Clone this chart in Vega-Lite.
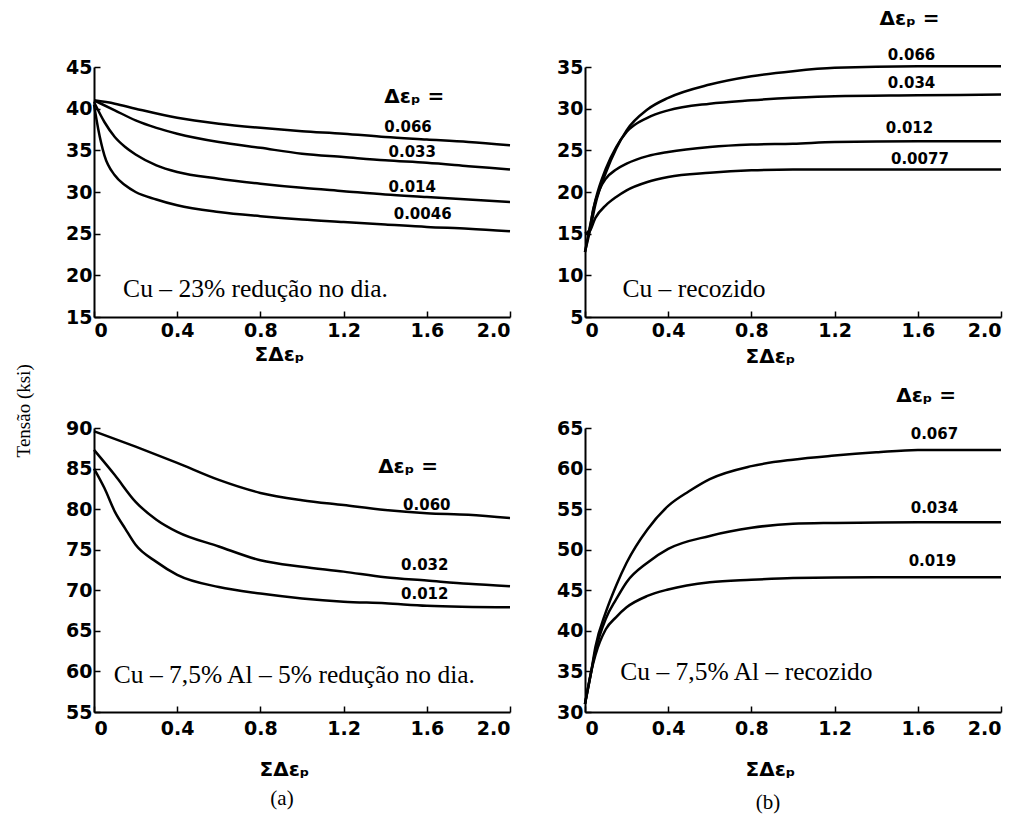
{
  "$schema": "https://vega.github.io/schema/vega-lite/v6.json",
  "background": "white",
  "padding": {"left": 14, "top": 8, "right": 10, "bottom": 4},
  "title": {"text": "Tensão (ksi)", "orient": "left", "anchor": "middle", "font": "Liberation Serif", "fontSize": 19, "fontWeight": "normal", "color": "black", "offset": 32},
  "spacing": 20,
  "datasets": {
    "curves": [
      {"panel":"a1","series":"0.066","x":0,"y":41.0},{"panel":"a1","series":"0.066","x":0.1,"y":40.6},{"panel":"a1","series":"0.066","x":0.2,"y":40.0},{"panel":"a1","series":"0.066","x":0.4,"y":38.9},{"panel":"a1","series":"0.066","x":0.6,"y":38.2},{"panel":"a1","series":"0.066","x":0.8,"y":37.7},{"panel":"a1","series":"0.066","x":1.0,"y":37.3},{"panel":"a1","series":"0.066","x":1.2,"y":37.0},{"panel":"a1","series":"0.066","x":1.4,"y":36.6},{"panel":"a1","series":"0.066","x":1.6,"y":36.3},{"panel":"a1","series":"0.066","x":1.8,"y":36.0},{"panel":"a1","series":"0.066","x":2.0,"y":35.6},
      {"panel":"a1","series":"0.033","x":0,"y":41.0},{"panel":"a1","series":"0.033","x":0.1,"y":39.8},{"panel":"a1","series":"0.033","x":0.2,"y":38.6},{"panel":"a1","series":"0.033","x":0.3,"y":37.7},{"panel":"a1","series":"0.033","x":0.4,"y":37.0},{"panel":"a1","series":"0.033","x":0.6,"y":36.0},{"panel":"a1","series":"0.033","x":0.8,"y":35.3},{"panel":"a1","series":"0.033","x":1.0,"y":34.6},{"panel":"a1","series":"0.033","x":1.2,"y":34.2},{"panel":"a1","series":"0.033","x":1.4,"y":33.8},{"panel":"a1","series":"0.033","x":1.6,"y":33.5},{"panel":"a1","series":"0.033","x":1.8,"y":33.1},{"panel":"a1","series":"0.033","x":2.0,"y":32.7},
      {"panel":"a1","series":"0.014","x":0,"y":40.8},{"panel":"a1","series":"0.014","x":0.05,"y":38.4},{"panel":"a1","series":"0.014","x":0.1,"y":36.6},{"panel":"a1","series":"0.014","x":0.15,"y":35.4},{"panel":"a1","series":"0.014","x":0.2,"y":34.5},{"panel":"a1","series":"0.014","x":0.3,"y":33.2},{"panel":"a1","series":"0.014","x":0.4,"y":32.4},{"panel":"a1","series":"0.014","x":0.6,"y":31.6},{"panel":"a1","series":"0.014","x":0.8,"y":31.0},{"panel":"a1","series":"0.014","x":1.0,"y":30.5},{"panel":"a1","series":"0.014","x":1.2,"y":30.1},{"panel":"a1","series":"0.014","x":1.4,"y":29.7},{"panel":"a1","series":"0.014","x":1.6,"y":29.4},{"panel":"a1","series":"0.014","x":1.8,"y":29.1},{"panel":"a1","series":"0.014","x":2.0,"y":28.8},
      {"panel":"a1","series":"0.0046","x":0,"y":40.5},{"panel":"a1","series":"0.0046","x":0.02,"y":37.6},{"panel":"a1","series":"0.0046","x":0.05,"y":34.4},{"panel":"a1","series":"0.0046","x":0.1,"y":32.0},{"panel":"a1","series":"0.0046","x":0.15,"y":30.8},{"panel":"a1","series":"0.0046","x":0.2,"y":30.0},{"panel":"a1","series":"0.0046","x":0.3,"y":29.1},{"panel":"a1","series":"0.0046","x":0.4,"y":28.4},{"panel":"a1","series":"0.0046","x":0.6,"y":27.6},{"panel":"a1","series":"0.0046","x":0.8,"y":27.1},{"panel":"a1","series":"0.0046","x":1.0,"y":26.7},{"panel":"a1","series":"0.0046","x":1.2,"y":26.4},{"panel":"a1","series":"0.0046","x":1.4,"y":26.1},{"panel":"a1","series":"0.0046","x":1.6,"y":25.8},{"panel":"a1","series":"0.0046","x":1.8,"y":25.6},{"panel":"a1","series":"0.0046","x":2.0,"y":25.3},

      {"panel":"b1","series":"0.066","x":0,"y":12.8},{"panel":"b1","series":"0.066","x":0.025,"y":15.5},{"panel":"b1","series":"0.066","x":0.05,"y":18.5},{"panel":"b1","series":"0.066","x":0.1,"y":22.3},{"panel":"b1","series":"0.066","x":0.15,"y":25.2},{"panel":"b1","series":"0.066","x":0.2,"y":27.4},{"panel":"b1","series":"0.066","x":0.3,"y":29.9},{"panel":"b1","series":"0.066","x":0.4,"y":31.3},{"panel":"b1","series":"0.066","x":0.6,"y":32.9},{"panel":"b1","series":"0.066","x":0.8,"y":33.9},{"panel":"b1","series":"0.066","x":1.0,"y":34.5},{"panel":"b1","series":"0.066","x":1.2,"y":34.9},{"panel":"b1","series":"0.066","x":1.6,"y":35.1},{"panel":"b1","series":"0.066","x":2.0,"y":35.1},
      {"panel":"b1","series":"0.034","x":0,"y":12.8},{"panel":"b1","series":"0.034","x":0.025,"y":16.0},{"panel":"b1","series":"0.034","x":0.05,"y":19.0},{"panel":"b1","series":"0.034","x":0.1,"y":22.8},{"panel":"b1","series":"0.034","x":0.15,"y":25.4},{"panel":"b1","series":"0.034","x":0.2,"y":27.2},{"panel":"b1","series":"0.034","x":0.3,"y":28.9},{"panel":"b1","series":"0.034","x":0.4,"y":29.8},{"panel":"b1","series":"0.034","x":0.6,"y":30.6},{"panel":"b1","series":"0.034","x":0.8,"y":31.0},{"panel":"b1","series":"0.034","x":1.0,"y":31.3},{"panel":"b1","series":"0.034","x":1.2,"y":31.5},{"panel":"b1","series":"0.034","x":1.6,"y":31.6},{"panel":"b1","series":"0.034","x":2.0,"y":31.7},
      {"panel":"b1","series":"0.012","x":0,"y":15.0},{"panel":"b1","series":"0.012","x":0.02,"y":15.4},{"panel":"b1","series":"0.012","x":0.04,"y":18.0},{"panel":"b1","series":"0.012","x":0.07,"y":20.3},{"panel":"b1","series":"0.012","x":0.1,"y":21.6},{"panel":"b1","series":"0.012","x":0.15,"y":22.7},{"panel":"b1","series":"0.012","x":0.2,"y":23.4},{"panel":"b1","series":"0.012","x":0.3,"y":24.3},{"panel":"b1","series":"0.012","x":0.4,"y":24.8},{"panel":"b1","series":"0.012","x":0.6,"y":25.4},{"panel":"b1","series":"0.012","x":0.8,"y":25.7},{"panel":"b1","series":"0.012","x":1.0,"y":25.8},{"panel":"b1","series":"0.012","x":1.2,"y":26.0},{"panel":"b1","series":"0.012","x":1.6,"y":26.1},{"panel":"b1","series":"0.012","x":2.0,"y":26.1},
      {"panel":"b1","series":"0.0077","x":0,"y":15.0},{"panel":"b1","series":"0.0077","x":0.02,"y":15.2},{"panel":"b1","series":"0.0077","x":0.05,"y":16.9},{"panel":"b1","series":"0.0077","x":0.1,"y":18.4},{"panel":"b1","series":"0.0077","x":0.15,"y":19.4},{"panel":"b1","series":"0.0077","x":0.2,"y":20.2},{"panel":"b1","series":"0.0077","x":0.3,"y":21.2},{"panel":"b1","series":"0.0077","x":0.4,"y":21.8},{"panel":"b1","series":"0.0077","x":0.6,"y":22.3},{"panel":"b1","series":"0.0077","x":0.8,"y":22.6},{"panel":"b1","series":"0.0077","x":1.0,"y":22.7},{"panel":"b1","series":"0.0077","x":1.4,"y":22.7},{"panel":"b1","series":"0.0077","x":2.0,"y":22.7},

      {"panel":"a2","series":"0.060","x":0,"y":89.6},{"panel":"a2","series":"0.060","x":0.2,"y":87.7},{"panel":"a2","series":"0.060","x":0.4,"y":85.7},{"panel":"a2","series":"0.060","x":0.6,"y":83.6},{"panel":"a2","series":"0.060","x":0.8,"y":82.0},{"panel":"a2","series":"0.060","x":1.0,"y":81.1},{"panel":"a2","series":"0.060","x":1.2,"y":80.5},{"panel":"a2","series":"0.060","x":1.4,"y":79.9},{"panel":"a2","series":"0.060","x":1.6,"y":79.5},{"panel":"a2","series":"0.060","x":1.8,"y":79.3},{"panel":"a2","series":"0.060","x":2.0,"y":78.9},
      {"panel":"a2","series":"0.032","x":0,"y":87.3},{"panel":"a2","series":"0.032","x":0.1,"y":84.2},{"panel":"a2","series":"0.032","x":0.2,"y":80.9},{"panel":"a2","series":"0.032","x":0.3,"y":78.7},{"panel":"a2","series":"0.032","x":0.4,"y":77.2},{"panel":"a2","series":"0.032","x":0.6,"y":75.4},{"panel":"a2","series":"0.032","x":0.8,"y":73.7},{"panel":"a2","series":"0.032","x":1.0,"y":72.9},{"panel":"a2","series":"0.032","x":1.2,"y":72.3},{"panel":"a2","series":"0.032","x":1.4,"y":71.6},{"panel":"a2","series":"0.032","x":1.6,"y":71.2},{"panel":"a2","series":"0.032","x":1.8,"y":70.8},{"panel":"a2","series":"0.032","x":2.0,"y":70.5},
      {"panel":"a2","series":"0.012","x":0,"y":85.0},{"panel":"a2","series":"0.012","x":0.05,"y":82.6},{"panel":"a2","series":"0.012","x":0.1,"y":79.7},{"panel":"a2","series":"0.012","x":0.15,"y":77.6},{"panel":"a2","series":"0.012","x":0.2,"y":75.6},{"panel":"a2","series":"0.012","x":0.3,"y":73.5},{"panel":"a2","series":"0.012","x":0.4,"y":71.9},{"panel":"a2","series":"0.012","x":0.6,"y":70.4},{"panel":"a2","series":"0.012","x":0.8,"y":69.6},{"panel":"a2","series":"0.012","x":1.0,"y":69.0},{"panel":"a2","series":"0.012","x":1.2,"y":68.6},{"panel":"a2","series":"0.012","x":1.4,"y":68.4},{"panel":"a2","series":"0.012","x":1.6,"y":68.1},{"panel":"a2","series":"0.012","x":2.0,"y":67.9},

      {"panel":"b2","series":"0.067","x":0,"y":31.0},{"panel":"b2","series":"0.067","x":0.03,"y":35.0},{"panel":"b2","series":"0.067","x":0.05,"y":38.0},{"panel":"b2","series":"0.067","x":0.1,"y":42.3},{"panel":"b2","series":"0.067","x":0.15,"y":45.6},{"panel":"b2","series":"0.067","x":0.2,"y":48.4},{"panel":"b2","series":"0.067","x":0.3,"y":52.5},{"panel":"b2","series":"0.067","x":0.4,"y":55.4},{"panel":"b2","series":"0.067","x":0.5,"y":57.2},{"panel":"b2","series":"0.067","x":0.6,"y":58.7},{"panel":"b2","series":"0.067","x":0.8,"y":60.3},{"panel":"b2","series":"0.067","x":1.0,"y":61.1},{"panel":"b2","series":"0.067","x":1.2,"y":61.6},{"panel":"b2","series":"0.067","x":1.4,"y":62.0},{"panel":"b2","series":"0.067","x":1.6,"y":62.3},{"panel":"b2","series":"0.067","x":2.0,"y":62.3},
      {"panel":"b2","series":"0.034","x":0,"y":31.0},{"panel":"b2","series":"0.034","x":0.03,"y":35.0},{"panel":"b2","series":"0.034","x":0.05,"y":37.5},{"panel":"b2","series":"0.034","x":0.1,"y":41.5},{"panel":"b2","series":"0.034","x":0.15,"y":43.9},{"panel":"b2","series":"0.034","x":0.2,"y":46.0},{"panel":"b2","series":"0.034","x":0.3,"y":48.4},{"panel":"b2","series":"0.034","x":0.4,"y":50.1},{"panel":"b2","series":"0.034","x":0.6,"y":51.7},{"panel":"b2","series":"0.034","x":0.8,"y":52.7},{"panel":"b2","series":"0.034","x":1.0,"y":53.2},{"panel":"b2","series":"0.034","x":1.2,"y":53.3},{"panel":"b2","series":"0.034","x":1.6,"y":53.4},{"panel":"b2","series":"0.034","x":2.0,"y":53.4},
      {"panel":"b2","series":"0.019","x":0,"y":31.0},{"panel":"b2","series":"0.019","x":0.03,"y":35.0},{"panel":"b2","series":"0.019","x":0.05,"y":37.0},{"panel":"b2","series":"0.019","x":0.1,"y":40.2},{"panel":"b2","series":"0.019","x":0.15,"y":41.7},{"panel":"b2","series":"0.019","x":0.2,"y":42.9},{"panel":"b2","series":"0.019","x":0.3,"y":44.3},{"panel":"b2","series":"0.019","x":0.4,"y":45.1},{"panel":"b2","series":"0.019","x":0.6,"y":46.0},{"panel":"b2","series":"0.019","x":0.8,"y":46.3},{"panel":"b2","series":"0.019","x":1.0,"y":46.5},{"panel":"b2","series":"0.019","x":1.4,"y":46.6},{"panel":"b2","series":"0.019","x":2.0,"y":46.6}
    ],
    "labels": [
      {"panel":"a1","kind":"head","x":1.54,"y":41.4,"text":"Δεₚ ="},
      {"panel":"a1","kind":"num","x":1.51,"y":37.8,"text":"0.066"},
      {"panel":"a1","kind":"num","x":1.53,"y":34.8,"text":"0.033"},
      {"panel":"a1","kind":"num","x":1.53,"y":30.6,"text":"0.014"},
      {"panel":"a1","kind":"num","x":1.58,"y":27.4,"text":"0.0046"},
      {"panel":"a1","kind":"note","x":0.14,"y":18.4,"text":"Cu – 23% redução no dia."},
      {"panel":"b1","kind":"head","x":1.56,"y":40.8,"text":"Δεₚ ="},
      {"panel":"b1","kind":"num","x":1.57,"y":36.5,"text":"0.066"},
      {"panel":"b1","kind":"num","x":1.57,"y":33.1,"text":"0.034"},
      {"panel":"b1","kind":"num","x":1.56,"y":27.7,"text":"0.012"},
      {"panel":"b1","kind":"num","x":1.61,"y":24.0,"text":"0.0077"},
      {"panel":"b1","kind":"note","x":0.18,"y":8.4,"text":"Cu – recozido"},
      {"panel":"a2","kind":"head","x":1.51,"y":85.2,"text":"Δεₚ ="},
      {"panel":"a2","kind":"num","x":1.6,"y":80.5,"text":"0.060"},
      {"panel":"a2","kind":"num","x":1.59,"y":73.1,"text":"0.032"},
      {"panel":"a2","kind":"num","x":1.59,"y":69.5,"text":"0.012"},
      {"panel":"a2","kind":"note","x":0.095,"y":59.5,"text":"Cu – 7,5% Al – 5% redução no dia."},
      {"panel":"b2","kind":"head","x":1.64,"y":68.9,"text":"Δεₚ ="},
      {"panel":"b2","kind":"num","x":1.68,"y":64.2,"text":"0.067"},
      {"panel":"b2","kind":"num","x":1.68,"y":55.2,"text":"0.034"},
      {"panel":"b2","kind":"num","x":1.67,"y":48.6,"text":"0.019"},
      {"panel":"b2","kind":"note","x":0.17,"y":34.9,"text":"Cu – 7,5% Al – recozido"}
    ]
  },
  "vconcat": [
    {
      "spacing": 41,
      "hconcat": [
        {
          "width": 416, "height": 250,
          "encoding": {
            "x": {"field": "x", "type": "quantitative", "scale": {"domain": [0, 2], "nice": false}, "axis": {"values": [0, 0.4, 0.8, 1.2, 1.6, 2.0], "labelExpr": "datum.value == 0 ? '0' : format(datum.value, '.1f')", "title": "ΣΔεₚ", "titleX": 185, "labelPadding": 10, "titlePadding": 4}},
            "y": {"field": "y", "type": "quantitative", "scale": {"domain": [15, 45], "nice": false, "zero": false}, "axis": {"values": [15, 20, 25, 30, 35, 40, 45], "title": null}}
          },
          "layer": [
            {"data": {"name": "curves"}, "transform": [{"filter": "datum.panel === 'a1'"}], "mark": {"type": "line", "interpolate": "monotone", "color": "black", "strokeWidth": 2.5}, "encoding": {"detail": {"field": "series"}}},
            {"data": {"name": "labels"}, "transform": [{"filter": "datum.panel === 'a1' && datum.kind === 'num'"}], "mark": {"type": "text", "font": "DejaVu Sans", "fontWeight": "bold", "fontSize": 15, "color": "black", "align": "center", "baseline": "middle"}, "encoding": {"text": {"field": "text"}}},
            {"data": {"name": "labels"}, "transform": [{"filter": "datum.panel === 'a1' && datum.kind === 'head'"}], "mark": {"type": "text", "font": "DejaVu Sans", "fontWeight": "bold", "fontSize": 20, "color": "black", "align": "center", "baseline": "middle"}, "encoding": {"text": {"field": "text"}}},
            {"data": {"name": "labels"}, "transform": [{"filter": "datum.panel === 'a1' && datum.kind === 'note'"}], "mark": {"type": "text", "font": "Liberation Serif", "fontSize": 25.5, "color": "black", "align": "left", "baseline": "middle"}, "encoding": {"text": {"field": "text"}}}
          ]
        },
        {
          "width": 416, "height": 250,
          "encoding": {
            "x": {"field": "x", "type": "quantitative", "scale": {"domain": [0, 2], "nice": false}, "axis": {"values": [0, 0.4, 0.8, 1.2, 1.6, 2.0], "labelExpr": "datum.value == 0 ? '0' : format(datum.value, '.1f')", "title": "ΣΔεₚ", "titleX": 185, "labelPadding": 10, "titlePadding": 6}},
            "y": {"field": "y", "type": "quantitative", "scale": {"domain": [5, 35], "nice": false, "zero": false}, "axis": {"values": [5, 10, 15, 20, 25, 30, 35], "title": null}}
          },
          "layer": [
            {"data": {"name": "curves"}, "transform": [{"filter": "datum.panel === 'b1'"}], "mark": {"type": "line", "interpolate": "monotone", "color": "black", "strokeWidth": 2.5}, "encoding": {"detail": {"field": "series"}}},
            {"data": {"name": "labels"}, "transform": [{"filter": "datum.panel === 'b1' && datum.kind === 'num'"}], "mark": {"type": "text", "font": "DejaVu Sans", "fontWeight": "bold", "fontSize": 15, "color": "black", "align": "center", "baseline": "middle"}, "encoding": {"text": {"field": "text"}}},
            {"data": {"name": "labels"}, "transform": [{"filter": "datum.panel === 'b1' && datum.kind === 'head'"}], "mark": {"type": "text", "font": "DejaVu Sans", "fontWeight": "bold", "fontSize": 20, "color": "black", "align": "center", "baseline": "middle"}, "encoding": {"text": {"field": "text"}}},
            {"data": {"name": "labels"}, "transform": [{"filter": "datum.panel === 'b1' && datum.kind === 'note'"}], "mark": {"type": "text", "font": "Liberation Serif", "fontSize": 25.5, "color": "black", "align": "left", "baseline": "middle"}, "encoding": {"text": {"field": "text"}}}
          ]
        }
      ]
    },
    {
      "spacing": 41,
      "hconcat": [
        {
          "width": 416, "height": 284,
          "title": {"text": "(a)", "orient": "bottom", "anchor": "middle", "font": "Liberation Serif", "fontSize": 21, "fontWeight": "normal", "color": "black", "offset": 9, "dx": -20},
          "encoding": {
            "x": {"field": "x", "type": "quantitative", "scale": {"domain": [0, 2], "nice": false}, "axis": {"values": [0, 0.4, 0.8, 1.2, 1.6, 2.0], "labelExpr": "datum.value == 0 ? '0' : format(datum.value, '.1f')", "title": "ΣΔεₚ", "titleX": 190, "labelPadding": 13, "titlePadding": 21}},
            "y": {"field": "y", "type": "quantitative", "scale": {"domain": [55, 90], "nice": false, "zero": false}, "axis": {"values": [55, 60, 65, 70, 75, 80, 85, 90], "title": null}}
          },
          "layer": [
            {"data": {"name": "curves"}, "transform": [{"filter": "datum.panel === 'a2'"}], "mark": {"type": "line", "interpolate": "monotone", "color": "black", "strokeWidth": 2.5}, "encoding": {"detail": {"field": "series"}}},
            {"data": {"name": "labels"}, "transform": [{"filter": "datum.panel === 'a2' && datum.kind === 'num'"}], "mark": {"type": "text", "font": "DejaVu Sans", "fontWeight": "bold", "fontSize": 15, "color": "black", "align": "center", "baseline": "middle"}, "encoding": {"text": {"field": "text"}}},
            {"data": {"name": "labels"}, "transform": [{"filter": "datum.panel === 'a2' && datum.kind === 'head'"}], "mark": {"type": "text", "font": "DejaVu Sans", "fontWeight": "bold", "fontSize": 20, "color": "black", "align": "center", "baseline": "middle"}, "encoding": {"text": {"field": "text"}}},
            {"data": {"name": "labels"}, "transform": [{"filter": "datum.panel === 'a2' && datum.kind === 'note'"}], "mark": {"type": "text", "font": "Liberation Serif", "fontSize": 25.5, "color": "black", "align": "left", "baseline": "middle"}, "encoding": {"text": {"field": "text"}}}
          ]
        },
        {
          "width": 416, "height": 284,
          "title": {"text": "(b)", "orient": "bottom", "anchor": "middle", "font": "Liberation Serif", "fontSize": 21, "fontWeight": "normal", "color": "black", "offset": 13, "dx": -25},
          "encoding": {
            "x": {"field": "x", "type": "quantitative", "scale": {"domain": [0, 2], "nice": false}, "axis": {"values": [0, 0.4, 0.8, 1.2, 1.6, 2.0], "labelExpr": "datum.value == 0 ? '0' : format(datum.value, '.1f')", "title": "ΣΔεₚ", "titleX": 185, "labelPadding": 13, "titlePadding": 21}},
            "y": {"field": "y", "type": "quantitative", "scale": {"domain": [30, 65], "nice": false, "zero": false}, "axis": {"values": [30, 35, 40, 45, 50, 55, 60, 65], "title": null}}
          },
          "layer": [
            {"data": {"name": "curves"}, "transform": [{"filter": "datum.panel === 'b2'"}], "mark": {"type": "line", "interpolate": "monotone", "color": "black", "strokeWidth": 2.5}, "encoding": {"detail": {"field": "series"}}},
            {"data": {"name": "labels"}, "transform": [{"filter": "datum.panel === 'b2' && datum.kind === 'num'"}], "mark": {"type": "text", "font": "DejaVu Sans", "fontWeight": "bold", "fontSize": 15, "color": "black", "align": "center", "baseline": "middle"}, "encoding": {"text": {"field": "text"}}},
            {"data": {"name": "labels"}, "transform": [{"filter": "datum.panel === 'b2' && datum.kind === 'head'"}], "mark": {"type": "text", "font": "DejaVu Sans", "fontWeight": "bold", "fontSize": 20, "color": "black", "align": "center", "baseline": "middle"}, "encoding": {"text": {"field": "text"}}},
            {"data": {"name": "labels"}, "transform": [{"filter": "datum.panel === 'b2' && datum.kind === 'note'"}], "mark": {"type": "text", "font": "Liberation Serif", "fontSize": 25.5, "color": "black", "align": "left", "baseline": "middle"}, "encoding": {"text": {"field": "text"}}}
          ]
        }
      ]
    }
  ],
  "config": {
    "view": {"stroke": null},
    "axis": {"domainColor": "black", "domainWidth": 2, "tickColor": "black", "tickWidth": 1.5, "tickSize": -6, "grid": false, "labelFont": "DejaVu Sans", "labelFontWeight": "bold", "labelFontSize": 19, "labelColor": "black", "labelPadding": 8, "titleFont": "DejaVu Sans", "titleFontWeight": "bold", "titleFontSize": 20, "titleColor": "black", "titlePadding": 4}
  }
}
